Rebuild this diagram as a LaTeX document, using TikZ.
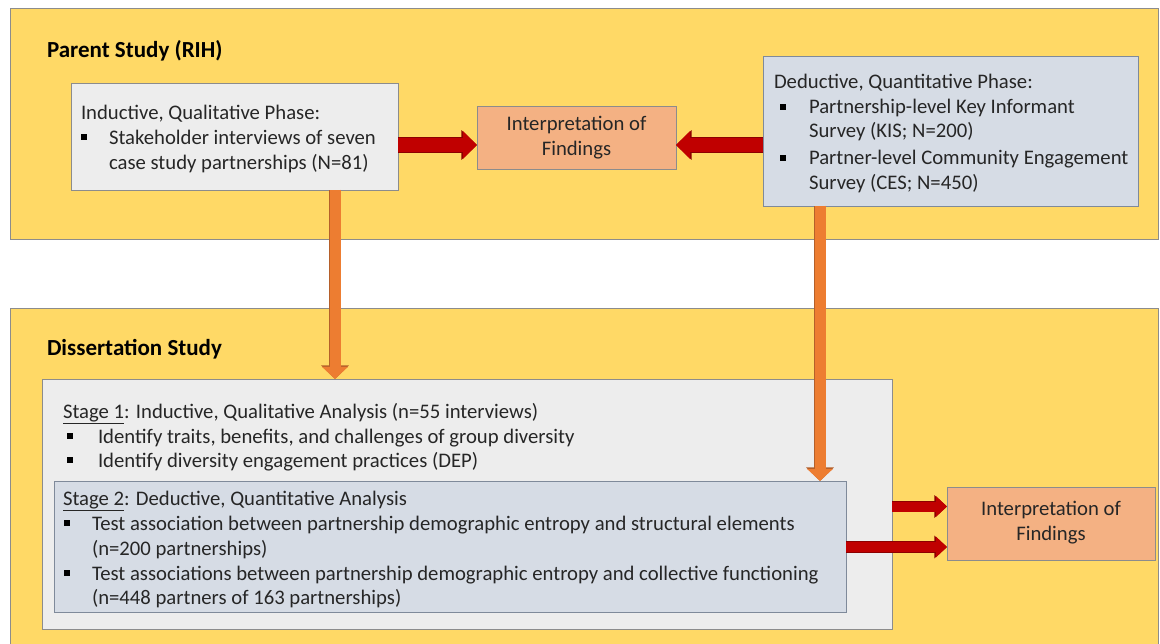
\documentclass[tikz,border=0pt]{standalone}
\usepackage{fontspec}
\setmainfont{Carlito}
\usetikzlibrary{arrows.meta}
\definecolor{panelyellow}{HTML}{FFD966}
\definecolor{panelborder}{HTML}{8C8C8C}
\definecolor{lightgraybox}{HTML}{EDEDED}
\definecolor{bluegraybox}{HTML}{D6DCE5}
\definecolor{salmonbox}{HTML}{F4B183}
\definecolor{boxborder}{HTML}{7F8A9A}
\definecolor{arrred}{HTML}{C00000}
\definecolor{arrreddark}{HTML}{8C0000}
\definecolor{arrorange}{HTML}{ED7D31}
\definecolor{arrorangedark}{HTML}{B5602A}
\definecolor{txt}{HTML}{262626}
\begin{document}
\begin{tikzpicture}[x=1pt,y=-1pt,
  every node/.style={inner sep=0pt,outer sep=0pt},
  panel/.style={draw=panelborder,line width=0.8pt,fill=panelyellow,anchor=north west},
  graybox/.style={draw=panelborder,line width=0.8pt,fill=lightgraybox,anchor=north west},
  bluebox/.style={draw=boxborder,line width=0.8pt,fill=bluegraybox,anchor=north west},
  interpbox/.style={draw=panelborder,line width=0.8pt,fill=salmonbox,anchor=north west},
  txtline/.style={anchor=base west,text=txt,font=\fontsize{20.7}{25}\selectfont},
  heading/.style={anchor=base west,text=black,font=\fontsize{23}{27}\selectfont\bfseries},
  interptext/.style={align=center,text=txt,font=\fontsize{20.7}{25}\selectfont},
  bul/.style={fill=black,minimum size=5.5pt},
  redarrowbig/.style={preaction={draw=arrreddark,line width=15.4pt,-{Triangle[length=15.6pt,width=29pt]}},
    draw=arrred,line width=14pt,-{Triangle[length=14pt,width=27pt]}},
  redarrowsmall/.style={preaction={draw=arrreddark,line width=11.4pt,-{Triangle[length=12.6pt,width=22pt]}},
    draw=arrred,line width=10pt,-{Triangle[length=11pt,width=20pt]}},
  orangearrow/.style={preaction={draw=arrorangedark,line width=12.4pt,-{Triangle[length=13.6pt,width=27pt]}},
    draw=arrorange,line width=11pt,-{Triangle[length=12pt,width=25pt]}}
]
\useasboundingbox (0,0) rectangle (1160,644);
\fill[white] (0,0) rectangle (1160,644);

% panels
\node[panel,minimum width=1148pt,minimum height=231pt] (parent) at (10,8) {};
\node[panel,minimum width=1148pt,minimum height=336pt] (diss) at (10,308) {};

\node[heading] (parenttitle) at (47,58) {Parent Study (RIH)};
\node[heading] (disstitle) at (47,356) {Dissertation Study};

% top boxes
\node[graybox,minimum width=327pt,minimum height=107pt] (ind) at (71,83) {};
\node[interpbox,minimum width=199pt,minimum height=63pt] (interpA) at (477,106) {};
\node[bluebox,minimum width=375pt,minimum height=150pt] (ded) at (763,56) {};

% bottom boxes
\node[graybox,minimum width=850pt,minimum height=250pt] (stage1) at (42,379) {};
\node[bluebox,minimum width=792pt,minimum height=131pt] (stage2) at (54,481) {};
\node[interpbox,minimum width=208pt,minimum height=73pt] (interpB) at (947,487) {};

% texts in inductive box
\node[txtline] (indt) at (81,120) {Inductive, Qualitative Phase:};
\node[bul] (indb1) at (84,137) {};
\node[txtline] (indl1) at (109,145) {Stakeholder interviews of seven};
\node[txtline] (indl2) at (109,170) {case study partnerships (N=81)};

% interpretation top
\node[interptext] (interpAt) at (interpA.center) {Interpretation of\\Findings};

% deductive box
\node[txtline] (dedt) at (774,89) {Deductive, Quantitative Phase:};
\node[bul] (dedb1) at (783,107) {};
\node[txtline] (dedl1) at (809,114) {Partnership-level Key Informant};
\node[txtline] (dedl2) at (809,138) {Survey (KIS; N=200)};
\node[bul] (dedb2) at (783,158) {};
\node[txtline] (dedl3) at (809,165) {Partner-level Community Engagement};
\node[txtline] (dedl4) at (809,190) {Survey (CES; N=450)};

% stage 1
\node[txtline] (s1t) at (63,418) {\underline{Stage 1}: Inductive, Qualitative Analysis (n=55 interviews)};
\node[bul] (s1b1) at (70,436) {};
\node[txtline] (s1l1) at (98,443) {Identify traits, benefits, and challenges of group diversity};
\node[bul] (s1b2) at (70,460) {};
\node[txtline] (s1l2) at (98,467) {Identify diversity engagement practices (DEP)};

% stage 2
\node[txtline] (s2t) at (63,505) {\underline{Stage 2}: Deductive, Quantitative Analysis};
\node[bul] (s2b1) at (67,523) {};
\node[txtline] (s2l1) at (92,530) {Test association between partnership demographic entropy and structural elements};
\node[txtline] (s2l2) at (92,555) {(n=200 partnerships)};
\node[bul] (s2b2) at (67,573) {};
\node[txtline] (s2l3) at (92,580) {Test associations between partnership demographic entropy and collective functioning};
\node[txtline] (s2l4) at (92,604) {(n=448 partners of 163 partnerships)};

% interpretation bottom
\node[interptext] (interpBt) at ([yshift=1pt]interpB.center) {Interpretation of\\Findings};

% helper coordinates for connector lines
\coordinate (xa) at (335,0);
\coordinate (xb) at (820,0);
\coordinate (ya) at (0,145);
\coordinate (yc) at (0,506.5);
\coordinate (yd) at (0,547);

% connectors
\draw[redarrowbig] (ind.east |- ya) -- (interpA.west |- ya);
\draw[redarrowbig] (ded.west |- ya) -- (interpA.east |- ya);
\draw[orangearrow] (ind.south -| xa) -- (stage1.north -| xa);
\draw[orangearrow] (ded.south -| xb) -- (stage2.north -| xb);
\draw[redarrowsmall] (stage1.east |- yc) -- (interpB.west |- yc);
\draw[redarrowsmall] (stage2.east |- yd) -- (interpB.west |- yd);
\end{tikzpicture}
\end{document}
